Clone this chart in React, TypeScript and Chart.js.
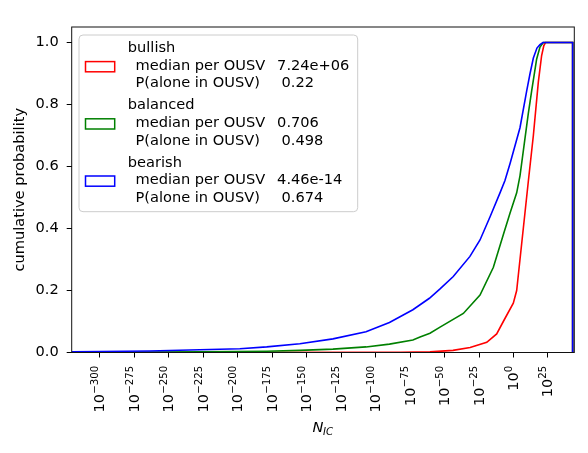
import React, { useEffect, useRef } from 'react';
import { Chart, registerables } from 'chart.js';

Chart.register(...registerables);

// ---- data (x = log10 of N_IC, y = cumulative probability) ----
const xTickExponents = [-300, -275, -250, -225, -200, -175, -150, -125, -100, -75, -50, -25, 0, 25];
const yTickValues = [0, 0.2, 0.4, 0.6, 0.8, 1.0];

const bullishExp = [-320.4, -82, -60.6, -43.9, -31.5, -19.4, -12.2, -7.4, -0.15, 2.3, 3.5, 4.7, 5.9, 8.3, 10.7, 14.4, 18.0, 20.4, 22.0, 23.2, 42.9, 42.9];
const bullishCum = [0, 0.0005, 0.002, 0.007, 0.016, 0.033, 0.06, 0.1, 0.159, 0.2, 0.25, 0.3, 0.35, 0.45, 0.55, 0.7, 0.872, 0.958, 0.99, 1.0, 1.0, 0];

const balancedExp = [-320.4, -227.5, -179, -155, -131, -107, -90, -73, -67.8, -60.6, -53.3, -36.4, -24.3, -14.6, -7.4, -2.5, 2.3, 4.7, 8.3, 10.7, 13.2, 16.8, 19.2, 21.6, 42.9, 42.9];
const balancedCum = [0, 0.002, 0.004, 0.007, 0.011, 0.018, 0.027, 0.04, 0.05, 0.062, 0.082, 0.126, 0.185, 0.275, 0.38, 0.45, 0.515, 0.57, 0.69, 0.77, 0.845, 0.947, 0.985, 1.0, 1.0, 0];

const bearishExp = [-320.4, -300, -264, -227.5, -198.5, -179, -155, -131, -107, -90, -73, -61, -53.3, -43.7, -31.6, -24.3, -17, -9.8, -6.2, -2.5, 4.7, 9.6, 12, 14.4, 17, 19.2, 21.4, 42.9, 42.9];
const bearishCum = [0.002, 0.003, 0.005, 0.009, 0.012, 0.018, 0.028, 0.044, 0.067, 0.097, 0.138, 0.175, 0.205, 0.245, 0.31, 0.363, 0.438, 0.515, 0.555, 0.61, 0.725, 0.845, 0.9, 0.95, 0.982, 0.993, 1.0, 1.0, 0];

const seriesNames = ['bullish', 'balanced', 'bearish'];
const medianLabels = ['7.24e+06', '0.706', '4.46e-14'];
const aloneLabels = ['0.22', '0.498', '0.674'];
const seriesColors = ['#ff0000', '#008000', '#0000ff'];

const FONT = '"DejaVu Sans"';
const FS = 14.6;

const overlay = {
  id: 'overlay',
  afterDraw(chart: any) {
    const { ctx, chartArea: a } = chart;
    ctx.save();
    // frame (all four spines)
    ctx.strokeStyle = '#111';
    ctx.lineWidth = 1;
    ctx.strokeRect(a.left, a.top, a.right - a.left, a.bottom - a.top);

    // x tick labels: 10 with raised exponent, rotated
    const xs = chart.scales.x;
    ctx.fillStyle = '#000';
    ctx.textAlign = 'left';
    ctx.textBaseline = 'alphabetic';
    for (const v of xTickExponents) {
      const px = xs.getPixelForValue(v);
      const expStr = v < 0 ? '\u2212' + Math.abs(v) : String(v);
      ctx.font = `${FS}px ${FONT}`;
      const w10 = ctx.measureText('10').width;
      ctx.font = `${FS * 0.7}px ${FONT}`;
      const wE = ctx.measureText(expStr).width;
      ctx.save();
      ctx.translate(px, a.bottom + 13.3);
      ctx.rotate(-Math.PI / 2);
      ctx.font = `${FS}px ${FONT}`;
      ctx.fillText('10', -(w10 + wE), 4.5);
      ctx.font = `${FS * 0.7}px ${FONT}`;
      ctx.fillText(expStr, -wE, -1.8);
      ctx.restore();
    }

    // y-axis title
    ctx.save();
    ctx.translate(20, (a.top + a.bottom) / 2);
    ctx.rotate(-Math.PI / 2);
    ctx.textAlign = 'center';
    ctx.textBaseline = 'middle';
    ctx.font = `${FS}px ${FONT}`;
    ctx.fillText('cumulative probability', 0, 0);
    ctx.restore();

    // x-axis title N_IC
    ctx.textAlign = 'left';
    ctx.textBaseline = 'alphabetic';
    ctx.font = `italic ${FS}px ${FONT}`;
    const nW = ctx.measureText('N').width;
    ctx.font = `italic ${FS * 0.7}px ${FONT}`;
    const icW = ctx.measureText('IC').width;
    const cx = (a.left + a.right) / 2;
    const x0 = cx - (nW + icW) / 2;
    ctx.font = `italic ${FS}px ${FONT}`;
    ctx.fillText('N', x0, 431.7);
    ctx.font = `italic ${FS * 0.7}px ${FONT}`;
    ctx.fillText('IC', x0 + nW - 0.5, 434.8);

    // legend
    const bx = 79, by = 35, bw = 278.7, bh = 176.7, r = 4;
    ctx.beginPath();
    ctx.moveTo(bx + r, by);
    ctx.arcTo(bx + bw, by, bx + bw, by + bh, r);
    ctx.arcTo(bx + bw, by + bh, bx, by + bh, r);
    ctx.arcTo(bx, by + bh, bx, by, r);
    ctx.arcTo(bx, by, bx + bw, by, r);
    ctx.closePath();
    ctx.fillStyle = 'rgba(255,255,255,0.8)';
    ctx.fill();
    ctx.strokeStyle = '#cccccc';
    ctx.lineWidth = 1;
    ctx.stroke();

    ctx.font = `${FS}px ${FONT}`;
    ctx.textBaseline = 'alphabetic';
    for (let i = 0; i < seriesNames.length; i++) {
      const base = 52 + 57.3 * i;
      ctx.fillStyle = '#000';
      ctx.fillText(seriesNames[i], 127.8, base);
      ctx.fillText('median per OUSV', 135.5, base + 17.7);
      ctx.fillText(medianLabels[i], 277.1, base + 17.7);
      ctx.fillText('P(alone in OUSV)', 135.5, base + 35.4);
      ctx.fillText(aloneLabels[i], 281.5, base + 35.4);
      ctx.strokeStyle = seriesColors[i];
      ctx.lineWidth = 1.5;
      const pc = 66.7 + 57.2 * i;
      ctx.strokeRect(85.5, pc - 5.1, 29.2, 10.2);
    }
    ctx.restore();
  },
};

export default function App() {
  const ref = useRef<HTMLCanvasElement | null>(null);

  useEffect(() => {
    document.body.style.margin = '0';
    if (!ref.current) return;
    const mk = (exp: number[], cum: number[]) => exp.map((x, i) => ({ x, y: cum[i] }));
    const seriesData = [mk(bullishExp, bullishCum), mk(balancedExp, balancedCum), mk(bearishExp, bearishCum)];
    const datasets = seriesData.map((d, i) => ({
      label: seriesNames[i],
      data: d,
      borderColor: seriesColors[i],
      backgroundColor: seriesColors[i],
      borderWidth: 1.6,
      pointRadius: 0,
      tension: 0,
      fill: false,
      order: 2 - i,
    }));

    const chart = new Chart(ref.current, {
      type: 'line',
      data: { datasets } as any,
      options: {
        responsive: false,
        animation: false,
        layout: { padding: { left: 0, top: 27, right: 13.7, bottom: 0 } },
        plugins: { legend: { display: false }, tooltip: { enabled: false }, title: { display: false } },
        scales: {
          x: {
            type: 'linear',
            min: -320.5,
            max: 44.1,
            afterBuildTicks: (s: any) => { s.ticks = xTickExponents.map((v) => ({ value: v })); },
            afterFit: (s: any) => { s.height = 100.5; },
            ticks: { display: false, autoSkip: false },
            grid: { drawOnChartArea: false, drawTicks: true, tickLength: 5, tickColor: '#000', tickWidth: 1 },
            border: { display: false },
          },
          y: {
            type: 'linear',
            min: 0,
            max: 1.05,
            afterBuildTicks: (s: any) => { s.ticks = yTickValues.map((v) => ({ value: v })); },
            afterFit: (s: any) => { s.width = 71.7; },
            ticks: {
              padding: 8,
              color: '#000',
              font: { family: 'DejaVu Sans', size: FS },
              callback: (v: any) => Number(v).toFixed(1),
            },
            grid: { drawOnChartArea: false, drawTicks: true, tickLength: 5, tickColor: '#000', tickWidth: 1 },
            border: { display: false },
          },
        },
      } as any,
      plugins: [overlay],
    });
    return () => chart.destroy();
  }, []);

  return (
    <div style={{ width: 588, height: 453, background: '#fff' }}>
      <canvas ref={ref} width={588} height={453} />
    </div>
  );
}
